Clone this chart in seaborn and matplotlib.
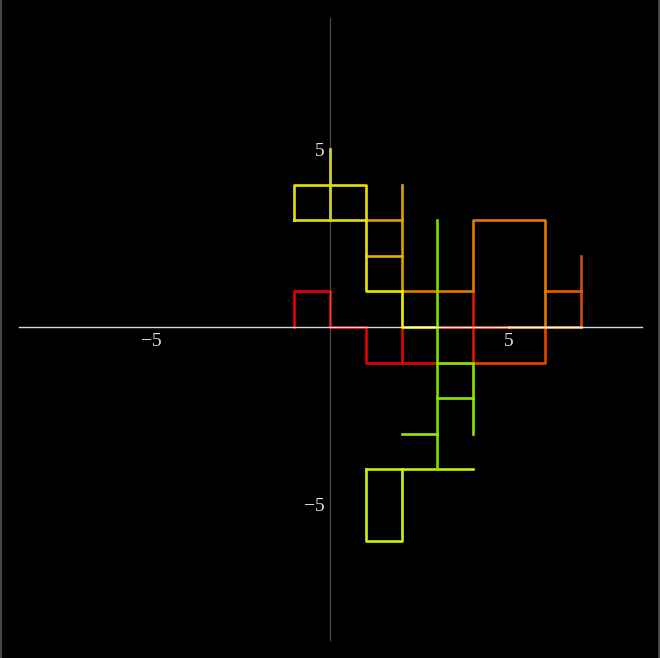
import pandas as pd
import matplotlib.pyplot as plt
import seaborn as sns
from matplotlib.lines import Line2D
from matplotlib.ticker import FixedLocator

# Lattice walk pieces, each drawn as one polyline with its own colour
paths = {
    'r1': [(-1, 0), (-1, 1), (0, 1), (0, 0), (1, 0), (1, -1), (2, -1), (3, -1), (4, -1)],
    'r2': [(2, -1), (2, 0)],
    'r3': [(4, -1), (4, 1)],
    'r4': [(3, 0), (5, 0)],
    'ro1': [(4, -1), (6, -1), (6, 0)],
    'ro2': [(7, 0), (7, 2)],
    'ro3': [(6, 1), (7, 1)],
    'o1': [(6, 0), (6, 3), (4, 3), (4, 1), (2, 1)],
    'o2': [(5, 0), (7, 0)],
    'g1': [(2, 1), (2, 4)],
    'g2': [(1, 3), (2, 3)],
    'g3': [(1, 2), (2, 2)],
    'y1': [(-1, 3), (-1, 4), (1, 4), (1, 3), (-1, 3)],
    'y2': [(0, 3), (0, 5)],
    'y3': [(1, 3), (1, 1), (2, 1)],
    'y4': [(2, 1), (2, 0), (3, 0)],
    'yg1': [(1, -4), (4, -4)],
    'yg2': [(1, -4), (1, -6), (2, -6), (2, -4)],
    'gr1': [(3, 3), (3, -4)],
    'gr2': [(3, -1), (4, -1), (4, -3)],
    'gr3': [(3, -2), (4, -2)],
    'gr4': [(2, -3), (3, -3)],
}
path_colors = {
    'r1': '#e60000', 'r2': '#e00a00', 'r3': '#d81800', 'r4': '#e04020',
    'ro1': '#e84400', 'ro2': '#c8500e', 'ro3': '#e85c00',
    'o1': '#e07c00', 'o2': '#e8a050',
    'g1': '#d8a400', 'g2': '#e0a000', 'g3': '#e0b400',
    'y1': '#e8e000', 'y2': '#e8e800', 'y3': '#e8e400', 'y4': '#f0f000',
    'yg1': '#c4ee10', 'yg2': '#c8f010',
    'gr1': '#7ee000', 'gr2': '#88e400', 'gr3': '#90e400', 'gr4': '#98e800',
}

rows = []
for name, pts in paths.items():
    for i, (x, y) in enumerate(pts):
        rows.append({'path': name, 'order': i, 'x': x, 'y': y})
df = pd.DataFrame(rows)

sns.set_style('dark')
plt.rcParams['font.family'] = ['Liberation Serif', 'DejaVu Serif']

fig = plt.figure(figsize=(6.6, 6.58), dpi=100, facecolor='black')
ax = fig.add_axes([0, 0, 1, 1])
ax.set_facecolor('black')

sns.lineplot(data=df, x='x', y='y', hue='path', palette=path_colors,
             units='path', estimator=None, sort=False, linewidth=1.9,
             legend=False, ax=ax, solid_capstyle='projecting', zorder=2)

ax.set_xlim(-9.22, 9.22)
ax.set_ylim(-9.30, 9.19)
ax.set_aspect('auto')
ax.grid(False)
ax.set_xlabel('')
ax.set_ylabel('')

for side in ['top', 'right']:
    ax.spines[side].set_visible(False)
ax.spines['bottom'].set_position('zero')
ax.spines['left'].set_position('zero')
ax.spines['bottom'].set_bounds(-8.7, 8.73)
ax.spines['left'].set_bounds(-8.8, 8.69)
ax.spines['bottom'].set_color('white')
ax.spines['bottom'].set_linewidth(1.0)
ax.spines['bottom'].set_alpha(0.85)
ax.spines['bottom'].set_zorder(5)
ax.spines['left'].set_color('#aaaaaa')
ax.spines['left'].set_linewidth(0.9)
ax.spines['left'].set_alpha(0.45)
ax.spines['left'].set_zorder(5)

major = [-5, 5]
minor = [v for v in range(-8, 9) if v not in (-5, 0, 5)]
for axis in (ax.xaxis, ax.yaxis):
    axis.set_major_locator(FixedLocator(major))
    axis.set_minor_locator(FixedLocator(minor))
ax.set_xticklabels(['\u22125', '5'])
ax.set_yticklabels(['\u22125', '5'])
ax.tick_params(axis='x', which='major', direction='in', length=6, width=1,
               color='#aaaaaa', labelcolor='#e0e0e0', labelsize=14, pad=4)
ax.tick_params(axis='x', which='minor', direction='in', length=3.5, width=1,
               color='#aaaaaa')
ax.tick_params(axis='y', which='major', direction='in', length=6, width=1,
               color='white', labelcolor='#e0e0e0', labelsize=14, pad=4)
ax.tick_params(axis='y', which='minor', direction='in', length=3.5, width=1,
               color='white')

# thin grey edges at left and right of the picture
fig.add_artist(Line2D([0.001, 0.001], [0, 1], color='#555555', lw=1.2))
fig.add_artist(Line2D([0.999, 0.999], [0, 1], color='#555555', lw=1.2))

fig.savefig('out.png', dpi=100, facecolor='black')
